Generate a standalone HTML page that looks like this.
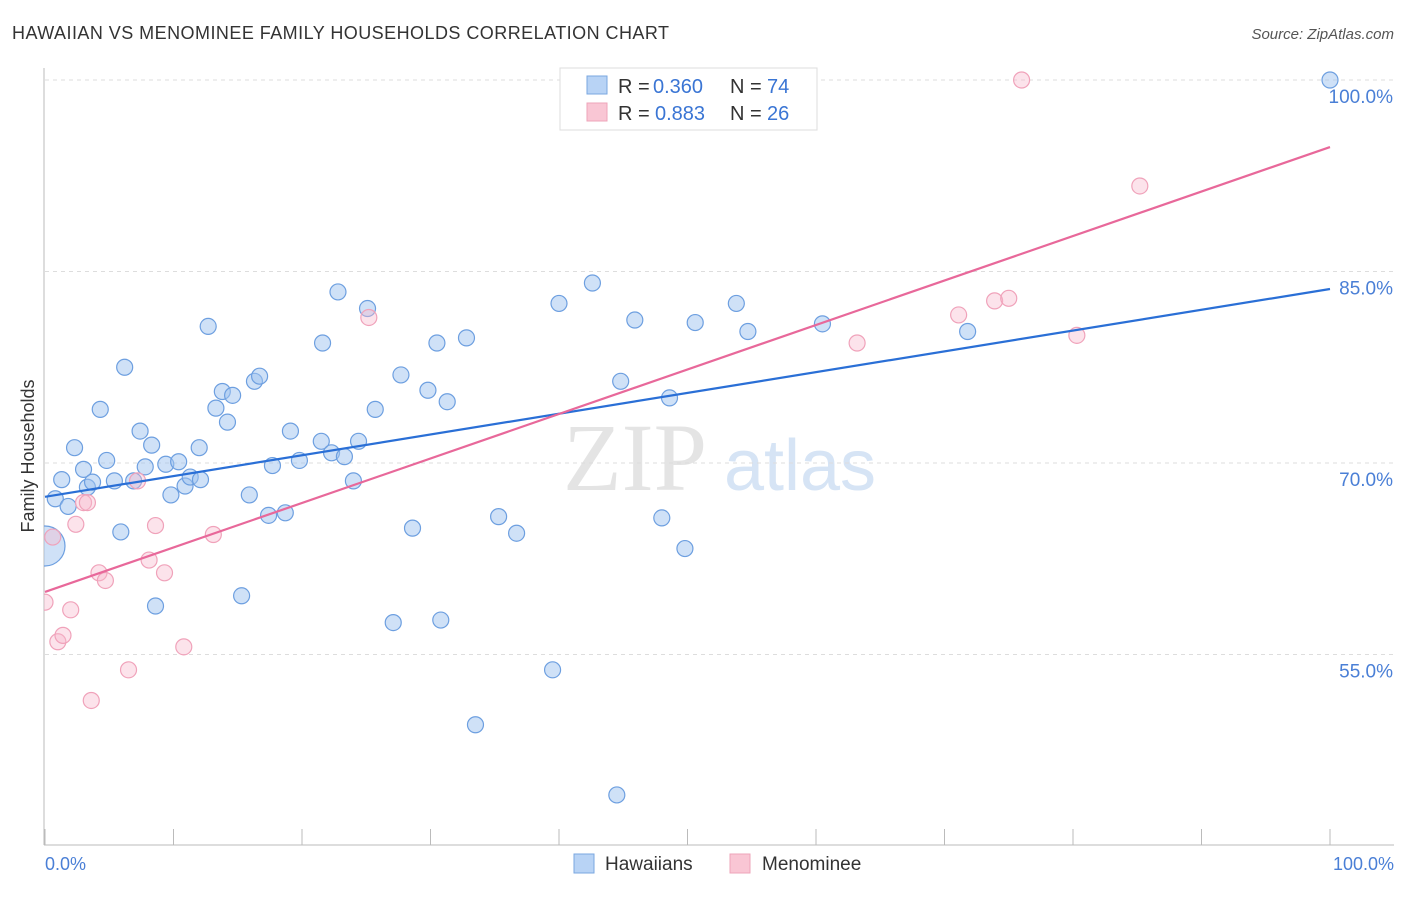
<!DOCTYPE html>
<html><head><meta charset="utf-8"><style>
body{margin:0;background:#fff;font-family:"Liberation Sans",sans-serif}
</style></head><body>
<svg id="c" width="1406" height="892" xmlns="http://www.w3.org/2000/svg" font-family="Liberation Sans, sans-serif">
<defs><clipPath id="plot"><rect x="44" y="60" width="1360" height="785"/></clipPath></defs>
<text x="12" y="39" font-size="18" fill="#333" textLength="657">HAWAIIAN VS MENOMINEE FAMILY HOUSEHOLDS CORRELATION CHART</text>
<text x="1394" y="39" font-size="15" fill="#555" font-style="italic" text-anchor="end">Source: ZipAtlas.com</text>
<text x="635" y="490" font-size="96" fill="#e4e4e4" font-family="Liberation Serif, serif" text-anchor="middle">ZIP</text>
<text x="800" y="490" font-size="72" fill="#d6e4f5" text-anchor="middle">atlas</text>
<g id="grid"></g>
<line x1="44" y1="68" x2="44" y2="845" stroke="#bbb"/>
<line x1="44" y1="845" x2="1394" y2="845" stroke="#bbb"/>
<g id="ticks"></g>
<text x="34" y="456" font-size="18" fill="#333" text-anchor="middle" transform="rotate(-90 34 456)">Family Households</text>
<text x="45" y="870" font-size="18" fill="#4a7fd6">0.0%</text>
<text x="1394" y="870" font-size="18" fill="#4a7fd6" text-anchor="end">100.0%</text>
<g id="pts" clip-path="url(#plot)"></g>
<g id="lines"></g>
<g font-size="20">
<rect x="560" y="68" width="257" height="62" fill="#fff" stroke="#ddd"/>
<rect x="587" y="76" width="20" height="18" fill="#b8d3f5" stroke="#7aa7e0"/>
<rect x="587" y="103" width="20" height="18" fill="#f9c6d4" stroke="#eea4ba"/>
<text x="618" y="93" fill="#333">R =</text><text x="653" y="93" fill="#3a75d4">0.360</text>
<text x="730" y="93" fill="#333">N =</text><text x="767" y="93" fill="#3a75d4">74</text>
<text x="618" y="120" fill="#333">R =</text><text x="655" y="120" fill="#3a75d4">0.883</text>
<text x="730" y="120" fill="#333">N =</text><text x="767" y="120" fill="#3a75d4">26</text>
</g>
<g>
<rect x="574" y="854" width="20" height="19" fill="#b8d3f5" stroke="#7aa7e0"/>
<text x="605" y="870" font-size="19" fill="#333">Hawaiians</text>
<rect x="730" y="854" width="20" height="19" fill="#f9c6d4" stroke="#eea4ba"/>
<text x="762" y="870" font-size="19" fill="#333">Menominee</text>
</g>
</svg>
<script>
const yTicks=[100,85,70,55];
const yTickLabels=["100.0%","85.0%","70.0%","55.0%"];
const xTicks=[0,10,20,30,40,50,60,70,80,90,100];
const blueX=[0.8,1.3,1.8,2.3,3,3.3,3.7,4.3,4.8,5.4,5.9,6.2,6.9,7.4,7.8,8.3,8.6,9.4,9.8,10.4,10.9,11.3,12,12.1,12.7,13.3,13.8,14.2,14.6,15.3,15.9,16.3,16.7,17.4,17.7,18.7,19.1,19.8,21.5,21.6,22.3,22.8,23.3,24,24.4,25.1,25.7,27.1,27.7,28.6,29.8,30.5,30.8,31.3,32.8,33.5,35.3,36.7,39.5,40,42.6,44.5,44.8,45.9,48,48.6,49.8,50.6,53.8,54.7,60.5,71.8,100];
const blueY=[67.2,68.7,66.6,71.2,69.5,68.1,68.5,74.2,70.2,68.6,64.6,77.5,68.6,72.5,69.7,71.4,58.8,69.9,67.5,70.1,68.2,68.9,71.2,68.7,80.7,74.3,75.6,73.2,75.3,59.6,67.5,76.4,76.8,65.9,69.8,66.1,72.5,70.2,71.7,79.4,70.8,83.4,70.5,68.6,71.7,82.1,74.2,57.5,76.9,64.9,75.7,79.4,57.7,74.8,79.8,49.5,65.8,64.5,53.8,82.5,84.1,44,76.4,81.2,65.7,75.1,63.3,81,82.5,80.3,80.9,80.3,100];
const pinkX=[0,0.6,1,1.4,2,2.4,3,3.3,3.6,4.2,4.7,6.5,7.2,8.1,8.6,9.3,10.8,13.1,25.2,63.2,71.1,73.9,75,76,80.3,85.2];
const pinkY=[59.1,64.2,56,56.5,58.5,65.2,66.9,66.9,51.4,61.4,60.8,53.8,68.6,62.4,65.1,61.4,55.6,64.4,81.4,79.4,81.6,82.7,82.9,100,80,91.7];
const blueTrend=[67.35,83.63];
const pinkTrend=[59.9,94.75];
const NS="http://www.w3.org/2000/svg";
const X=v=>45+v*12.85, Y=v=>80+(100-v)*12.767;
function mk(tag,at,parent){const e=document.createElementNS(NS,tag);for(const k in at)e.setAttribute(k,at[k]);document.getElementById(parent).appendChild(e);return e;}
yTicks.forEach((t,i)=>{
 const l=mk('line',{x1:45,x2:1394,y1:Y(t),y2:Y(t),stroke:'#ddd','stroke-dasharray':'4,4'},'grid');
 
 
 const tx=mk('text',{x:1393,y:Y(t)+23,'font-size':19,fill:'#4a7fd6','text-anchor':'end'},'grid');
 tx.textContent=yTickLabels[i];
 
 
});
xTicks.forEach(t=>{
 const l=mk('line',{x1:X(t),x2:X(t),y1:829,y2:845,stroke:'#bbb'},'ticks');
 
 
});
blueX.forEach((x,i)=>{
 const c=mk('circle',{cx:X(x),cy:Y(blueY[i]),r:8,fill:'rgba(160,196,240,0.5)',stroke:'#6d9fe0','stroke-width':1.2},'pts');
 
 
});
const big=mk('circle',{cx:X(0),cy:Y(63.5),r:20,fill:'rgba(160,196,240,0.5)',stroke:'#6d9fe0','stroke-width':1.2},'pts');


pinkX.forEach((x,i)=>{
 const c=mk('circle',{cx:X(x),cy:Y(pinkY[i]),r:8,fill:'rgba(248,185,205,0.4)',stroke:'#f0a2ba','stroke-width':1.2},'pts');
 
 
});
const bl=mk('line',{x1:X(0),x2:X(100),y1:Y(blueTrend[0]),y2:Y(blueTrend[1]),stroke:'#2a6fd6','stroke-width':2.2},'lines');


const pl=mk('line',{x1:X(0),x2:X(100),y1:Y(pinkTrend[0]),y2:Y(pinkTrend[1]),stroke:'#e8689a','stroke-width':2.2},'lines');


</script>
</body></html>
